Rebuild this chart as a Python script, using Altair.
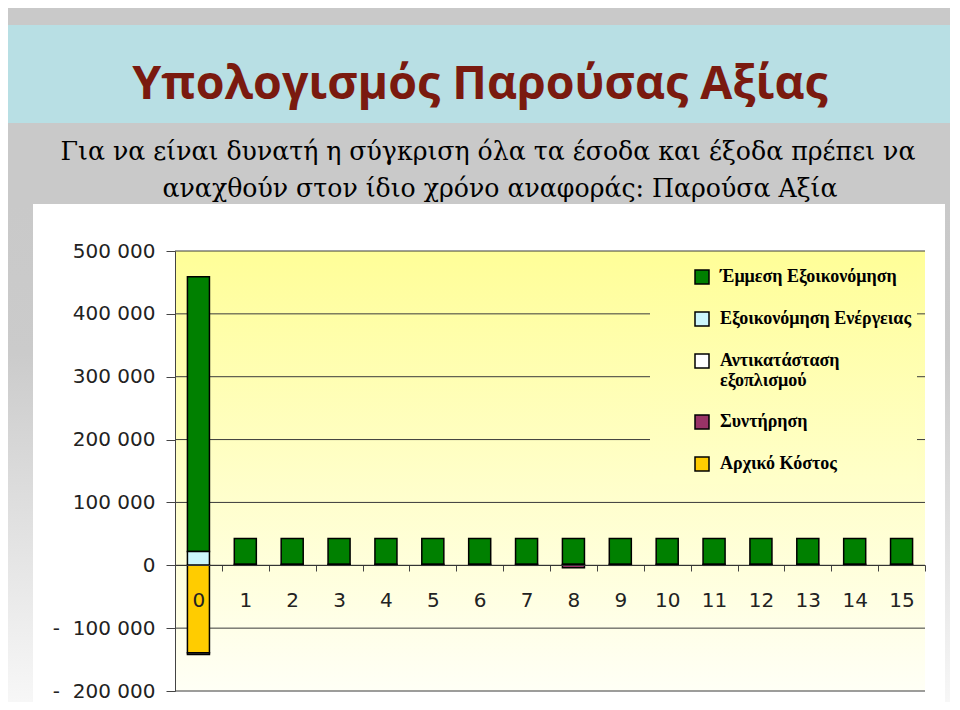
import altair as alt
import pandas as pd

# ---------------- data ----------------
years = [str(y) for y in range(16)]
series = ["Έμμεση Εξοικονόμηση", "Εξοικονόμηση Ενέργειας",
          "Αντικατάσταση εξοπλισμού", "Συντήρηση", "Αρχικό Κόστος"]
colors = ["#008000", "#ccf6fc", "#ffffff", "#993366", "#ffcc00"]
stack_order = [5, 4, 3, 2, 1]

indirect_saving = [437000, 41000, 41000, 41000, 41000, 41000, 41000, 41000,
                   41000, 41000, 41000, 41000, 41000, 41000, 41000, 41000]
energy_saving = [22000, 1500, 1500, 1500, 1500, 1500, 1500, 1500,
                 1500, 1500, 1500, 1500, 1500, 1500, 1500, 1500]
replacement = [-3000, 0, 0, 0, 0, 0, 0, 0, 0, 0, 0, 0, 0, 0, 0, 0]
maintenance = [0, 0, 0, 0, 0, 0, 0, 0, -4000, 0, 0, 0, 0, 0, 0, 0]
initial_cost = [-139000, 0, 0, 0, 0, 0, 0, 0, 0, 0, 0, 0, 0, 0, 0, 0]

y_ticks = [-200000, -100000, 0, 100000, 200000, 300000, 400000, 500000]

title_text = "Υπολογισμός Παρούσας Αξίας"
sub_line1 = "Για να είναι δυνατή η σύγκριση όλα τα έσοδα και έξοδα πρέπει να"
sub_line2 = "αναχθούν στον ίδιο χρόνο αναφοράς: Παρούσα Αξία"

# ---------------- tables ----------------
rows = []
for name, vals, o in zip(series,
                         [indirect_saving, energy_saving, replacement, maintenance, initial_cost],
                         stack_order):
    for yr, v in zip(years, vals):
        if v != 0:
            rows.append({"year": yr, "series": name, "value": v, "ord": o})
df = pd.DataFrame(rows)
grid_df = pd.DataFrame({"v": y_ticks})
one = pd.DataFrame({"a": [0]})

W, H = 750, 440
PLOT_TOP = "#fffe98"
PLOT_BOT = "#fffff6"
SERIF = "DejaVu Serif"
LEGEND_SERIF = "Liberation Serif"
SANS = "DejaVu Sans"


def grad(stops):
    return alt.LinearGradient(
        gradient="linear",
        stops=[alt.GradientStop(color=c, offset=o) for o, c in stops],
        x1=0, x2=0, y1=0, y2=1)


def lerp(c1, c2, t):
    a = [int(c1[i:i + 2], 16) for i in (1, 3, 5)]
    b = [int(c2[i:i + 2], 16) for i in (1, 3, 5)]
    return "#" + "".join(f"{round(x + (y - x) * t):02x}" for x, y in zip(a, b))


def rect(x0, x1, y0, y1, fill):
    return alt.Chart(one).mark_rect(fill=fill).encode(
        x=alt.value(x0), x2=alt.value(x1), y=alt.value(y0), y2=alt.value(y1))


side_grad = grad([(0, "#c9c9c9"), (0.3, "#cbcbcb"), (1, "#f7f7f7")])
left_strip = rect(-167, -142, -47, 451, side_grad)
right_strip = rect(770, 777, -47, 451, side_grad)
white_area = rect(-142, 770, -47, 451, "#ffffff")
banner = rect(-167, 775, -226, -128, "#b8dfe4")
plot_bg = rect(0, W, 0, H, grad([(0, PLOT_TOP), (1, PLOT_BOT)]))

# legend cover box (hides grid lines behind legend)
ly0, ly1 = 7, 233
legend_box = rect(475, 742, ly0, ly1,
                  grad([(0, lerp(PLOT_TOP, PLOT_BOT, ly0 / H)),
                        (1, lerp(PLOT_TOP, PLOT_BOT, ly1 / H))]))

y_scale = alt.Scale(domain=[-200000, 500000], nice=False, zero=False)

grid = alt.Chart(grid_df).mark_rule(color="#3a3a3a", strokeWidth=1).encode(
    y=alt.Y("v:Q", scale=y_scale),
    x=alt.value(0), x2=alt.value(W))

label_expr = ("datum.value < 0 ? '-\u00a0\u00a0' + replace(format(-datum.value, ','), ',', '\u00a0')"
              " : replace(format(datum.value, ','), ',', '\u00a0')")

bars = alt.Chart(df).mark_bar(
    stroke="black", strokeWidth=1.5, width=alt.RelativeBandSize(0.47)
).encode(
    x=alt.X("year:N", sort=years, scale=alt.Scale(domain=years, paddingInner=0, paddingOuter=0),
            axis=alt.Axis(title=None, labelAngle=0, offset=-126, tickBand="extent",
                          tickSize=6, tickColor="#444", domainColor="#333", domainWidth=1.2,
                          labelFont=SANS, labelFontSize=20, labelColor="#222",
                          labelPadding=19, zindex=1)),
    y=alt.Y("value:Q", stack="zero", scale=y_scale,
            axis=alt.Axis(title=None, values=y_ticks, grid=False, labelExpr=label_expr,
                          labelFont=SANS, labelFontSize=20, labelColor="#222",
                          tickSize=9, tickColor="#444", domainColor="#444", labelPadding=11,
                          zindex=1)),
    color=alt.Color("series:N", scale=alt.Scale(domain=series, range=colors),
                    legend=alt.Legend(
                        title=None, orient="none", legendX=518, legendY=17,
                        symbolType="square", symbolSize=196, symbolStrokeColor="black",
                        symbolStrokeWidth=1.5, symbolOpacity=1,
                        labelFont=LEGEND_SERIF, labelFontWeight="bold",
                        labelFontSize=18, labelColor="black", labelOffset=9,
                        labelLimit=400, rowPadding=22,
                        labelExpr="datum.label == 'Αντικατάσταση εξοπλισμού' ? "
                                  "['Αντικατάσταση', 'εξοπλισμού'] : datum.label")),
    order=alt.Order("ord:Q", sort="ascending"),
)

title_df = pd.DataFrame({"t": [title_text]})
title = alt.Chart(title_df).mark_text(
    font="Open Sans", fontWeight="bold", fontSize=46.5, color="#7a1a0f",
    align="center", baseline="alphabetic"
).encode(text="t:N", x=alt.value(305), y=alt.value(-152))

sub_df1 = pd.DataFrame({"t": [sub_line1]})
sub_df2 = pd.DataFrame({"t": [sub_line2]})
sub1 = alt.Chart(sub_df1).mark_text(
    font=SERIF, fontSize=25.2, color="black", align="center", baseline="alphabetic"
).encode(text="t:N", x=alt.value(313), y=alt.value(-91))
sub2 = alt.Chart(sub_df2).mark_text(
    font=SERIF, fontSize=25.2, color="black", align="center", baseline="alphabetic"
).encode(text="t:N", x=alt.value(325), y=alt.value(-54))

chart = alt.layer(
    left_strip, right_strip, white_area, banner, plot_bg, grid, legend_box, bars,
    title, sub1, sub2
).properties(
    width=W, height=H,
    autosize=alt.AutoSizeParams(type="none"),
    padding={"left": 167, "top": 243, "right": 25, "bottom": 11},
    background="#c9c9c9",
).configure_view(stroke="#8a8a8a", strokeWidth=1.5)

chart.save("out.html", embed_options={"renderer": "svg", "actions": False})
